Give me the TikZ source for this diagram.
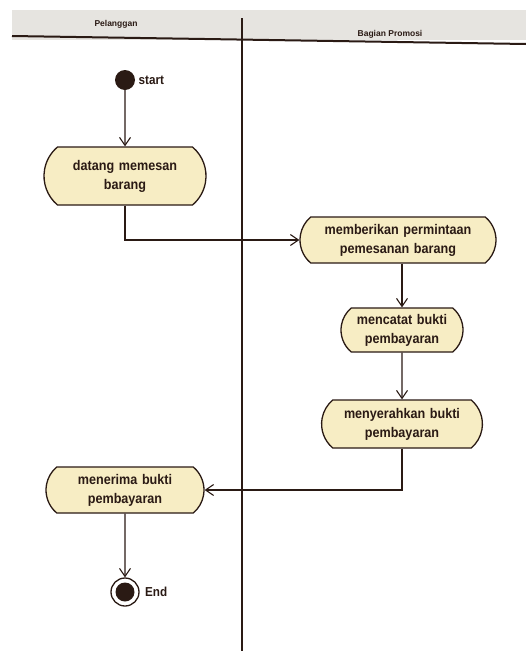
\documentclass[tikz,border=0pt]{standalone}
\usepackage{fontspec}
\setmainfont{Liberation Sans}
\newfontfamily\actfont[FakeStretch=0.9]{Liberation Sans Bold}
\usetikzlibrary{shapes.misc,arrows.meta}
\definecolor{actfill}{HTML}{F7EDC4}
\definecolor{lineclr}{HTML}{2A1A14}
\definecolor{headgray}{HTML}{E6E4E0}
\tikzset{
  act/.style={rounded rectangle, rounded rectangle arc length=100, draw=lineclr, line width=1.3pt, fill=actfill,
    align=center, font=\actfont\fontsize{14}{19}\selectfont, text=lineclr, inner xsep=6pt, inner ysep=5pt},
  flow/.style={draw=lineclr, line width=1.2pt, -{Straight Barb[length=8pt,width=11pt,line width=1.1pt]}},
  lane/.style={font=\bfseries\fontsize{8.5}{10}\selectfont, text=lineclr}
}
\begin{document}
\begin{tikzpicture}[x=1pt,y=-1pt]
\useasboundingbox (0,0) rectangle (526,651);
\fill[white] (0,0) rectangle (526,651);
% header band
\fill[headgray] (12,10) rectangle (526,40);
\draw[lineclr, line width=2pt] (12,36) -- (526,44);
\draw[lineclr, line width=1.2pt] (242,18) -- (242,651);
\node[lane] (h1) at (116,24) {Pelanggan};
\node[lane] (h2) at (390,34) {Bagian Promosi};
% start
\node[circle, fill=lineclr, minimum size=20pt, inner sep=0pt] (start) at (125,80) {};
\node[anchor=west, font=\actfont\fontsize{13}{15}\selectfont, text=lineclr] (startlbl) at (start.east) {start};
% actions
\node[act, minimum width=174pt, minimum height=58pt, text width=140pt] (a1) at (125,176) {datang memesan\\barang};
\node[act, minimum width=208pt, minimum height=46pt, text width=180pt] (a2) at (398,240) {memberikan permintaan\\pemesanan barang};
\node[act, minimum width=134pt, minimum height=44pt, text width=110pt] (a3) at (402,330) {mencatat bukti\\pembayaran};
\node[act, minimum width=156pt, minimum height=48pt, text width=140pt] (a4) at (402,424) {menyerahkan bukti\\pembayaran};
\node[act, minimum width=170pt, minimum height=46pt, text width=140pt] (a5) at (125,490) {menerima bukti\\pembayaran};
% end
\node[circle, draw=lineclr, line width=1.3pt, fill=white, minimum size=28pt, inner sep=0pt] (endo) at (125,592) {};
\node[circle, fill=lineclr, minimum size=19pt, inner sep=0pt] (endi) at (endo) {};
\node[anchor=west, font=\actfont\fontsize{13}{15}\selectfont, text=lineclr] (endlbl) at ([xshift=2pt]endo.east) {End};
% flows
\draw[flow] (start) -- (a1);
\draw[flow] (a1.south) |- (a2.west);
\draw[flow] (a2.south -| a3.north) -- (a3.north);
\draw[flow] (a3) -- (a4);
\draw[flow] (a4.south) |- (a5.east);
\draw[flow] (a5) -- (endo);
\end{tikzpicture}
\end{document}
